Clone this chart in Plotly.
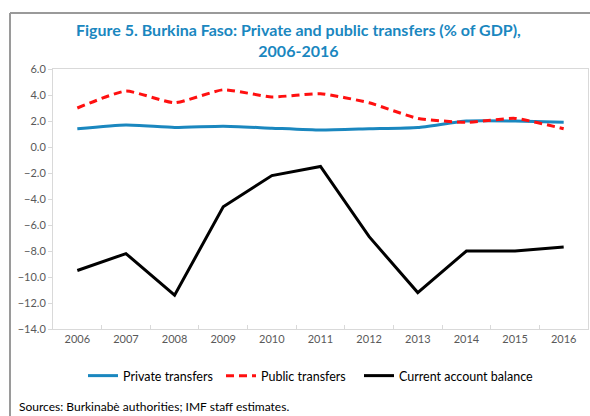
import plotly.graph_objects as go

years = ["2006", "2007", "2008", "2009", "2010", "2011",
         "2012", "2013", "2014", "2015", "2016"]
private_transfers = [1.4, 1.7, 1.5, 1.6, 1.45, 1.3, 1.4, 1.5, 2.0, 2.0, 1.9]
public_transfers = [3.0, 4.3, 3.4, 4.4, 3.85, 4.1, 3.4, 2.2, 1.9, 2.2, 1.4]
current_account = [-9.5, -8.2, -11.4, -4.6, -2.2, -1.5, -6.9, -11.2, -8.0, -8.0, -7.7]

FONT = "Lato"
BLUE = "#1a87bf"
RED = "#ff1010"
AXIS_GREY = "#d9d9d9"

fig = go.Figure()
fig.add_trace(go.Scatter(
    x=years, y=private_transfers, name="Private transfers", mode="lines",
    legendwidth=93,
    line=dict(color=BLUE, width=3, shape="spline", smoothing=0.5)))
fig.add_trace(go.Scatter(
    x=years, y=public_transfers, name="Public transfers", mode="lines",
    legendwidth=93,
    line=dict(color=RED, width=3, dash="8px,5px", shape="spline", smoothing=0.5)))
fig.add_trace(go.Scatter(
    x=years, y=current_account, name="Current account balance", mode="lines",
    legendwidth=150,
    line=dict(color="black", width=3)))

# plot area: x 53..588 px, y 69..329 px
L, R, T, B = 53, 2, 69, 87
W, H = 590, 416
pw, ph = W - L - R, H - T - B

def px_x(x):
    return (x - L) / pw

def px_y(y):
    return (H - B - y) / ph

fig.update_layout(
    width=W, height=H,
    margin=dict(l=L, r=R, t=T, b=B, pad=0),
    paper_bgcolor="white", plot_bgcolor="white",
    font=dict(family=FONT, color="#595959", size=11),
    showlegend=True,
    legend=dict(orientation="h", x=px_x(83), xanchor="left",
                y=px_y(376), yanchor="middle",
                font=dict(family=FONT, size=12.5, color="black"),
                bgcolor="rgba(0,0,0,0)", itemwidth=30,
                tracegroupgap=0),
    xaxis=dict(type="category", range=[-0.5, 10.5],
               showline=True, linecolor=AXIS_GREY, linewidth=1, mirror=True,
               ticks="inside", tickson="boundaries", ticklen=4,
               tickcolor=AXIS_GREY, showgrid=False, zeroline=False,
               tickfont=dict(size=11, color="#595959")),
    yaxis=dict(range=[-14, 6], dtick=2, tickformat=".1f",
               showline=True, linecolor=AXIS_GREY, linewidth=1, mirror=True,
               ticks="outside", ticklen=4, tickcolor=AXIS_GREY,
               showgrid=False, zeroline=False,
               tickfont=dict(size=11, color="#595959")),
    annotations=[
        dict(text="<b>Figure 5. Burkina Faso: Private and public transfers (% of GDP),"
                  "<br>2006-2016</b>",
             xref="paper", yref="paper", x=px_x(298), y=px_y(40),
             xanchor="center", yanchor="middle", showarrow=False,
             font=dict(family=FONT, size=16, color="#1a87bf"),
             align="center"),
        dict(text="Sources: Burkinabè authorities; IMF staff estimates.",
             xref="paper", yref="paper", x=px_x(17), y=px_y(406),
             xanchor="left", yanchor="middle", showarrow=False,
             font=dict(family=FONT, size=12, color="black")),
    ],
    shapes=[
        # outer frame (top and left edges)
        dict(type="line", xref="paper", yref="paper",
             x0=px_x(10), x1=px_x(600), y0=px_y(13), y1=px_y(13),
             line=dict(color="#9a9a9a", width=2)),
        dict(type="line", xref="paper", yref="paper",
             x0=px_x(10), x1=px_x(10), y0=px_y(13), y1=px_y(430),
             line=dict(color="#9a9a9a", width=2)),
    ],
)

fig.write_html("out.html")
